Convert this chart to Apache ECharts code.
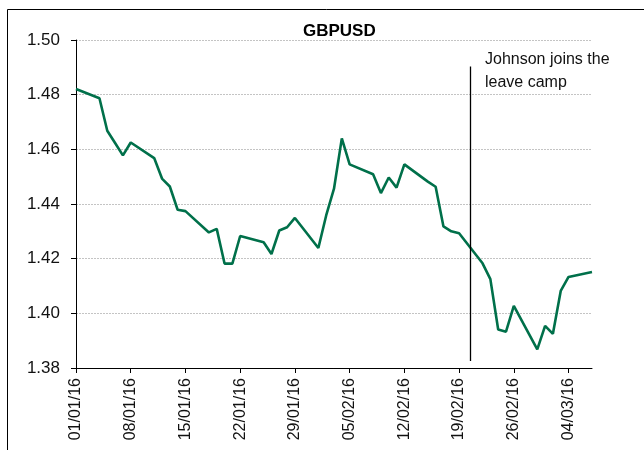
<!DOCTYPE html>
<html>
<head>
<meta charset="utf-8">
<script src="https://cdn.jsdelivr.net/npm/echarts@6/dist/echarts.min.js"></script>
<style>
  html, body { margin: 0; padding: 0; background: #fff; }
  #chart { width: 644px; height: 450px; }
</style>
</head>
<body>
<div id="chart"></div>
<script>
// trading days (dd/mm/yy) and GBPUSD close
var dates = ['01/01/16', '04/01/16', '05/01/16', '06/01/16', '07/01/16', '08/01/16',
  '11/01/16', '12/01/16', '13/01/16', '14/01/16', '15/01/16',
  '18/01/16', '19/01/16', '20/01/16', '21/01/16', '22/01/16',
  '25/01/16', '26/01/16', '27/01/16', '28/01/16', '29/01/16',
  '01/02/16', '02/02/16', '03/02/16', '04/02/16', '05/02/16',
  '08/02/16', '09/02/16', '10/02/16', '11/02/16', '12/02/16',
  '15/02/16', '16/02/16', '17/02/16', '18/02/16', '19/02/16',
  '22/02/16', '23/02/16', '24/02/16', '25/02/16', '26/02/16',
  '29/02/16', '01/03/16', '02/03/16', '03/03/16', '04/03/16',
  '07/03/16']
var gbpusd = [1.4821, 1.4787, 1.4668, 1.4623, 1.4578, 1.4625,
  1.4568, 1.4493, 1.4464, 1.4379, 1.4374,
  1.4296, 1.4309, 1.4182, 1.4182, 1.4283,
  1.4260, 1.4217, 1.4303, 1.4315, 1.4349,
  1.4239, 1.4358, 1.4456, 1.4640, 1.4545,
  1.4509, 1.4440, 1.4497, 1.4460, 1.4545,
  1.4482, 1.4463, 1.4318, 1.4300, 1.4293,
  1.4183, 1.4125, 1.3941, 1.3933, 1.4027,
  1.3868, 1.3954, 1.3925, 1.4082, 1.4133,
  1.4151]
var tickDates = ['01/01/16', '08/01/16', '15/01/16', '22/01/16', '29/01/16',
  '05/02/16', '12/02/16', '19/02/16', '26/02/16', '04/03/16']
var endDate = '07/03/16'
var yTicks = [1.38, 1.40, 1.42, 1.44, 1.46, 1.48, 1.50]
// Johnson announcement line (days from 01/01/16) and its vertical span
var johnsonDay = 50.4
var johnsonSpan = [1.3826, 1.4903]
var johnsonText = 'Johnson joins the\nleave camp'

var FONT = "'Liberation Sans Narrow', 'Arial Narrow', 'Liberation Sans', Arial, sans-serif"
var DAY = 86400000
var t0 = toTime(dates[0])

function toTime(s) {
  var p = s.split('/')
  return Date.UTC(2000 + (+p[2]), +p[1] - 1, +p[0])
}
function toDay(s) {
  return Math.round((toTime(s) - t0) / DAY)
}
function dayLabel(v) {
  var d = new Date(t0 + Math.round(v) * DAY)
  var dd = ('0' + d.getUTCDate()).slice(-2)
  var mm = ('0' + (d.getUTCMonth() + 1)).slice(-2)
  return dd + '/' + mm + '/' + String(d.getUTCFullYear()).slice(-2)
}

var tickDays = tickDates.map(toDay)
var seriesData = dates.map(function (d, i) { return [toDay(d), gbpusd[i]] })

var chart = echarts.init(document.getElementById('chart'))
chart.setOption({
  animation: false,
  backgroundColor: '#fff',
  title: {
    text: 'GBPUSD',
    left: 298,
    top: 18,
    textStyle: { fontFamily: "'Liberation Sans', Arial, sans-serif", fontWeight: 'bold', fontSize: 17, color: '#000' }
  },
  grid: { left: 76, right: 52, top: 40, bottom: 82, containLabel: false },
  xAxis: {
    type: 'value',
    min: 0,
    max: toDay(endDate),
    splitLine: { show: false },
    axisLine: { show: true, onZero: false, lineStyle: { color: '#000', width: 1 } },
    axisTick: { show: true, length: 5, customValues: tickDays, lineStyle: { color: '#000' } },
    axisLabel: {
      rotate: 90,
      margin: 10,
      customValues: tickDays,
      formatter: dayLabel,
      fontFamily: FONT,
      fontSize: 16,
      color: '#111'
    }
  },
  yAxis: {
    type: 'value',
    min: yTicks[0],
    max: yTicks[yTicks.length - 1],
    interval: 0.02,
    axisLine: { show: true, lineStyle: { color: '#000', width: 1 } },
    axisTick: { show: true, length: 5, lineStyle: { color: '#000' } },
    splitLine: { show: true, lineStyle: { color: '#c4c4c4', type: [2, 1], width: 1 } },
    axisLabel: {
      margin: 16,
      formatter: function (v) { return v.toFixed(2) },
      fontFamily: FONT,
      fontSize: 17,
      color: '#111'
    }
  },
  series: [{
    type: 'line',
    data: seriesData,
    showSymbol: false,
    lineStyle: { color: '#00704a', width: 2.6 },
    itemStyle: { color: '#00704a' },
    markLine: {
      silent: true,
      symbol: 'none',
      label: { show: false },
      lineStyle: { color: '#000', width: 1.3, type: 'solid' },
      data: [[
        { coord: [johnsonDay, johnsonSpan[0]] },
        { coord: [johnsonDay, johnsonSpan[1]] }
      ]]
    }
  }],
  graphic: [{
    type: 'rect',
    shape: { x: 7.5, y: 9.5, width: 700, height: 500 },
    style: { fill: 'none', stroke: '#000', lineWidth: 1 },
    silent: true
  }, {
    type: 'text',
    left: 485,
    top: 48,
    style: {
      text: johnsonText,
      font: '16px ' + FONT,
      lineHeight: 23,
      fill: '#111'
    }
  }]
})
</script>
</body>
</html>
